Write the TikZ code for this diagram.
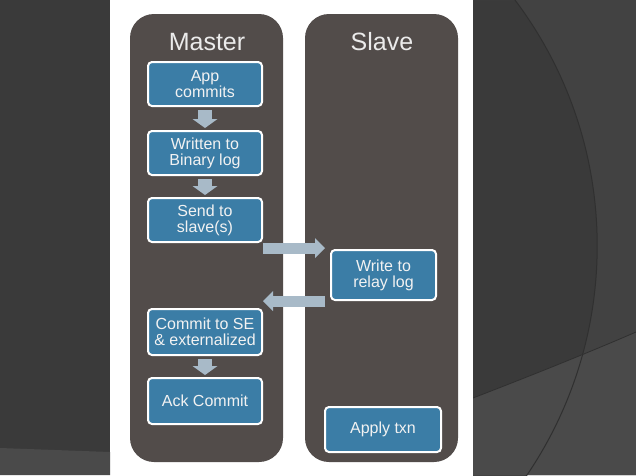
\documentclass[tikz,border=0pt]{standalone}
\usepackage{fontspec}
\setmainfont{Liberation Sans}
\usetikzlibrary{arrows.meta, positioning}

\definecolor{bgdark}{HTML}{3A3A3A}
\definecolor{bgmid}{HTML}{424242}
\definecolor{bglight}{HTML}{4A4A4A}
\definecolor{arcline}{HTML}{303030}
\definecolor{colgray}{HTML}{524C4A}
\definecolor{boxblue}{HTML}{3B7DA6}
\definecolor{arrowgray}{HTML}{A8BAC8}

\begin{document}
\begin{tikzpicture}[x=1pt, y=-1pt,
        stepbox/.style={draw=white, line width=2pt, fill=boxblue, rounded corners=4pt, text=white!95!black, align=center, font=\fontsize{16}{16}\selectfont, minimum width=114pt, minimum height=44pt, inner sep=2pt},
        blockarrow/.style={draw=arrowgray, line width=14pt, -{Triangle[width=25pt, length=9pt, line width=0pt]}, shorten <=3pt, shorten >=2pt},
        sidearrow/.style={draw=arrowgray, line width=11pt, -{Triangle[width=20pt, length=10pt, line width=0pt]}},
        coltitle/.style={text=white!92!black, font=\fontsize{25}{25}\selectfont}]
        \useasboundingbox (0,0) rectangle (636,475);

        % slide background
        \fill[white] (0,0) rectangle (636,475);
        \fill[bgdark] (0,0) rectangle (110,475);
        \fill[bglight] (0,448) -- (110,452) -- (110,475) -- (0,475) -- cycle;
        \begin{scope}
            \clip (473,0) rectangle (636,475);
            \fill[bgdark] (473,0) rectangle (636,475);
            \fill[bgmid, even odd rule] (473,0) rectangle (636,475) (188.5,245.9) circle (408.7);
            \fill[bglight] (473,398) .. controls (530,376) and (590,352) .. (636,332) -- (636,475) -- (473,475) -- cycle;
            \draw[arcline, line width=1pt] (188.5,245.9) circle (408.7);
            \draw[arcline, line width=0.8pt] (473,398) .. controls (530,376) and (590,352) .. (636,332);
        \end{scope}

        % columns
        \fill[colgray, rounded corners=24pt] (130,14) rectangle (283,462);
        \fill[colgray, rounded corners=24pt] (305,14) rectangle (458,462);
        \node[coltitle] (mastertitle) at (207,42) {Master};
        \node[coltitle] (slavetitle) at (382,42) {Slave};

        % master steps
        \node[stepbox] (app) at (205,84) {App\\commits};
        \node[stepbox, below=23pt of app] (binlog) {Written to\\Binary log};
        \node[stepbox, below=21pt of binlog] (send) {Send to\\slave(s)};
        \node[stepbox, below=65pt of send, minimum height=46pt] (commit) {Commit to SE\\\& externalized};
        \node[stepbox, below=21pt of commit, minimum height=46pt] (ack) {Ack Commit};

        % slave steps
        \node[stepbox, minimum width=105pt, minimum height=50pt] (relay) at (383.5,275) {Write to\\relay log};
        \node[stepbox, minimum width=116pt, minimum height=45pt] (apply) at (383,429.5) {Apply txn};

        \coordinate[below=5pt of send.south east] (sendout);
        \coordinate[above=7pt of commit.north east] (commitin);

        \path[blockarrow] (app) -- (binlog);
        \path[blockarrow] (binlog) -- (send);
        \path[blockarrow] (commit) -- (ack);
        \path[sidearrow, shorten >=5pt] (sendout) -- (sendout -| relay.west);
        \path[sidearrow, shorten <=5pt] (commitin -| relay.west) -- (commitin);
    \end{tikzpicture}
\end{document}
